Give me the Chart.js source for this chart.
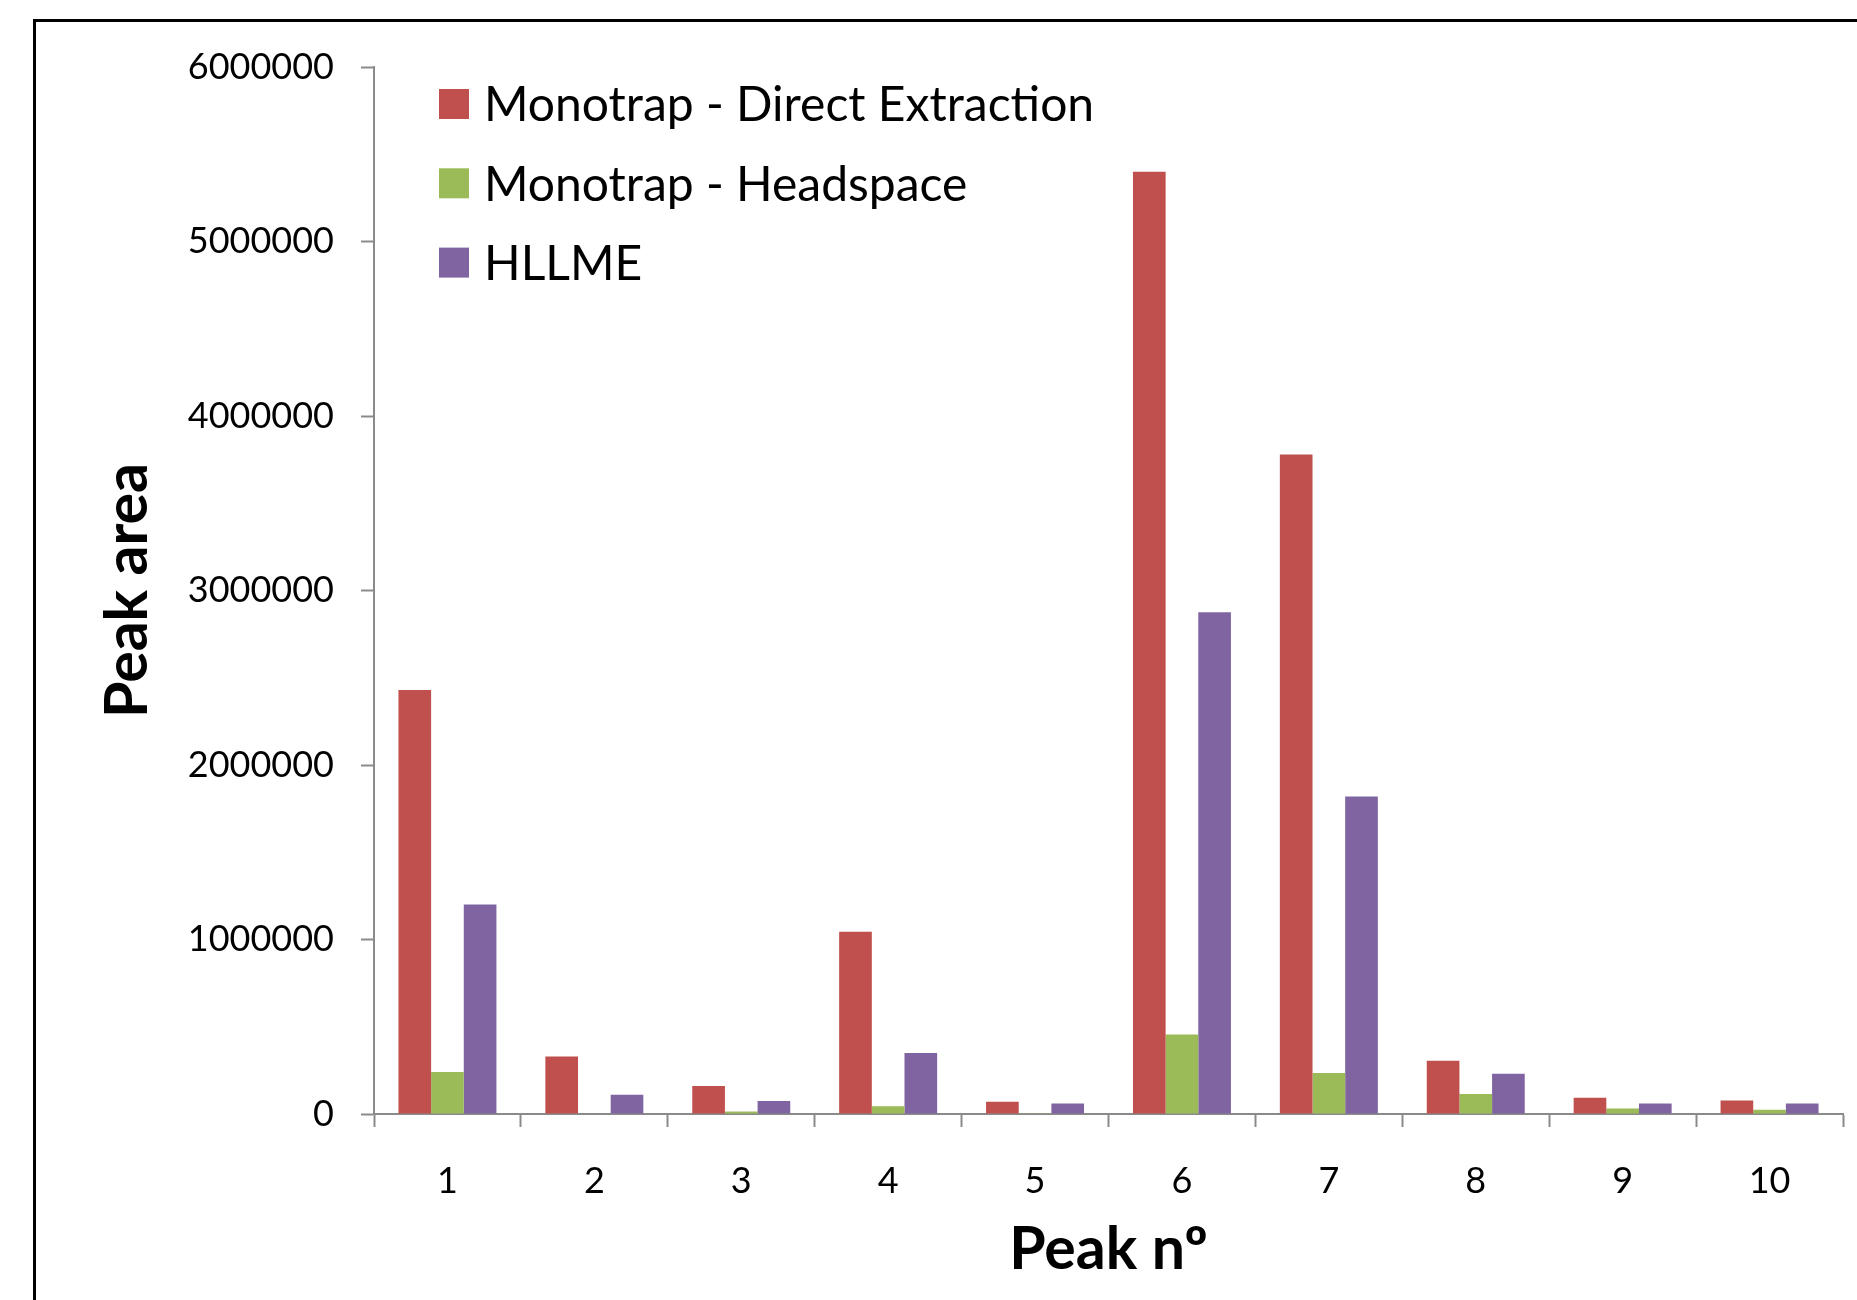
<!DOCTYPE html>
<html>
<head>
<meta charset="utf-8">
<title>Peak area by peak number</title>
<script src="https://cdn.jsdelivr.net/npm/chart.js@4.4.1/dist/chart.umd.min.js"></script>
<style>
  html, body { margin: 0; padding: 0; background: #ffffff; }
  #wrap { width: 1857px; height: 1300px; }
</style>
</head>
<body>
<div id="wrap"><canvas id="chart" width="1857" height="1300"></canvas></div>
<script>
// Peak numbers on the category axis
const peaks = ['1', '2', '3', '4', '5', '6', '7', '8', '9', '10'];

// Peak areas per extraction technique
const directExtraction = [2430000, 330000, 160000, 1045000, 70000, 5400000, 3780000, 305000, 93000, 77000];
const headspace        = [240000, 0, 15000, 45000, 5000, 455000, 235000, 115000, 32000, 24000];
const hllme            = [1200000, 110000, 75000, 350000, 60000, 2875000, 1820000, 230000, 60000, 60000];

// Value axis labels
const yTickLabels = ['0', '1000000', '2000000', '3000000', '4000000', '5000000', '6000000'];

const seriesNames = ['Monotrap - Direct Extraction', 'Monotrap - Headspace', 'HLLME'];
const seriesColors = ['#C0504D', '#9BBB59', '#8064A2'];

const FONT = 'Lato, "Open Sans", "DejaVu Sans", sans-serif';
const AXIS_GREY = '#8a8a8a';

// Outer frame around the chart object
const framePlugin = {
  id: 'frame',
  beforeDraw(chart) {
    const ctx = chart.ctx;
    ctx.save();
    ctx.fillStyle = '#ffffff';
    ctx.fillRect(0, 0, chart.width, chart.height);
    ctx.strokeStyle = '#000000';
    ctx.lineWidth = 3;
    ctx.strokeRect(34.5, 20.5, chart.width + 50, chart.height + 50);
    ctx.restore();
  }
};

// Legend drawn inside the plot area, stacked vertically
const insideLegend = {
  id: 'insideLegend',
  afterDraw(chart) {
    const ctx = chart.ctx;
    const size = 30;
    const fontSize = 48;
    const x0 = chart.chartArea.left + 65;
    const y0 = chart.chartArea.top + 37;
    const step = 79.3;
    ctx.save();
    ctx.font = fontSize + 'px ' + FONT;
    ctx.textAlign = 'left';
    ctx.textBaseline = 'alphabetic';
    chart.data.datasets.forEach((ds, i) => {
      const cy = y0 + i * step;
      ctx.fillStyle = ds.backgroundColor;
      ctx.fillRect(x0, cy - size / 2, size, size);
      ctx.fillStyle = '#000000';
      ctx.fillText(ds.label, x0 + size + 15, cy + fontSize * 0.36);
    });
    ctx.restore();
  }
};

const datasets = [directExtraction, headspace, hllme].map((values, i) => ({
  label: seriesNames[i],
  data: values,
  backgroundColor: seriesColors[i],
  borderWidth: 0,
  categoryPercentage: 0.667,
  barPercentage: 1.0
}));

new Chart(document.getElementById('chart'), {
  type: 'bar',
  data: { labels: peaks, datasets: datasets },
  plugins: [framePlugin, insideLegend],
  options: {
    responsive: false,
    animation: false,
    devicePixelRatio: 1,
    layout: { padding: { left: 0, top: 67, right: 14, bottom: 0 } },
    plugins: {
      legend: { display: false },
      tooltip: { enabled: false }
    },
    scales: {
      x: {
        type: 'category',
        offset: true,
        grid: {
          offset: true,
          drawOnChartArea: false,
          drawTicks: true,
          tickLength: 13,
          tickWidth: 2,
          tickColor: AXIS_GREY
        },
        border: { display: true, color: AXIS_GREY, width: 2 },
        ticks: {
          color: '#000000',
          font: { family: FONT, size: 36 },
          padding: 33,
          maxRotation: 0,
          autoSkip: false
        },
        title: {
          display: true,
          text: 'Peak nº',
          color: '#000000',
          font: { family: FONT, size: 59, weight: 'bold' },
          padding: { top: 0, bottom: 15 }
        },
        afterFit(scale) { scale.height = 186; }
      },
      y: {
        min: 0,
        max: 6000000,
        grid: {
          drawOnChartArea: false,
          drawTicks: true,
          tickLength: 13,
          tickWidth: 2,
          tickColor: AXIS_GREY
        },
        border: { display: true, color: AXIS_GREY, width: 2 },
        ticks: {
          stepSize: 1000000,
          color: '#000000',
          font: { family: FONT, size: 36 },
          padding: 27,
          callback: (value, index) => yTickLabels[index]
        },
        title: {
          display: true,
          text: 'Peak area',
          color: '#000000',
          font: { family: FONT, size: 59, weight: 'bold' },
          padding: { top: 93, bottom: 0 }
        },
        afterFit(scale) { scale.width = 374; }
      }
    }
  }
});
</script>
</body>
</html>
